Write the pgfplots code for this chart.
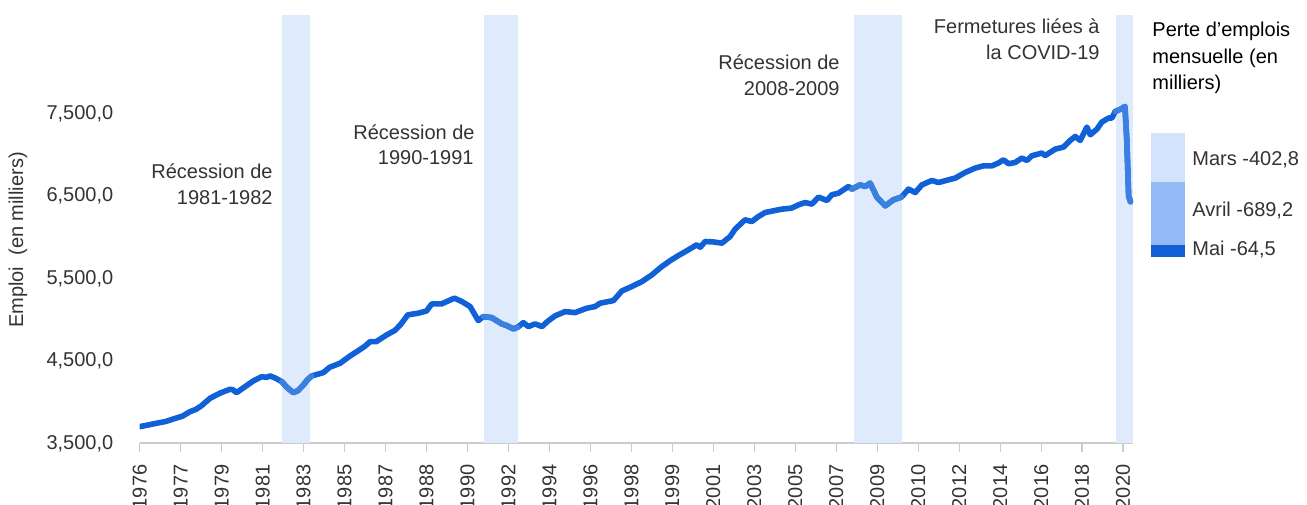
\documentclass[border=0pt]{standalone}
\usepackage{fontspec}
\setmainfont{Liberation Sans}
\usepackage{pgfplots}
\pgfplotsset{compat=1.18}
\usepackage{pgfplotstable}

\definecolor{linedark}{RGB}{16,96,216}
\definecolor{linelight}{RGB}{58,128,224}
\definecolor{shade}{RGB}{223,235,252}
\definecolor{marsc}{RGB}{210,227,252}
\definecolor{avrilc}{RGB}{146,186,244}
\definecolor{maic}{RGB}{17,94,214}
\definecolor{txt}{RGB}{51,51,51}
\definecolor{axisgray}{RGB}{204,204,204}

% month index (0 = Jan 1976), employment (thousands)
\pgfplotstableread{
m v
0 3702
4 3720
9 3743
14 3765
18 3795
23 3830
27 3884
30 3910
33 3953
37.8 4047
43 4108
48.5 4156
50 4150
52 4115
56.6 4188
61 4257
65.5 4309
68 4300
70 4318
73 4290
76.3 4248
79 4180
82.5 4115
85 4140
87.9 4208
90 4270
92.4 4318
95 4335
98.6 4358
102 4423
107.6 4472
113 4561
118 4634
121 4680
123.7 4734
127 4734
132.6 4816
137 4870
140 4940
144 5059
149.6 5080
154 5107
156.8 5192
162 5192
165.7 5229
169 5262
173 5221
177.4 5160
181.8 4990
184.5 5038
189 5026
194.4 4950
197 4930
200.6 4889
203 4910
206 4965
208.7 4917
212.3 4950
216 4917
219 4980
223 5047
228.4 5099
233.8 5087
240 5140
244.5 5160
247.2 5201
254.4 5233
258.9 5350
264.2 5403
269.6 5463
275 5545
280 5640
285 5720
289 5776
294.6 5849
299 5909
301 5881
303.6 5950
308 5945
312.6 5930
317 6010
319.7 6100
325 6213
328.7 6193
332 6250
335.8 6302
341 6326
344.8 6343
350 6355
353.7 6395
357.3 6423
360.9 6404
364.5 6489
369 6448
371.6 6517
375.2 6537
380.6 6618
382.4 6586
386.8 6638
389.5 6618
392.2 6659
395.8 6489
400.3 6383
404.7 6456
409 6489
412.8 6586
416.4 6545
420 6638
425.4 6691
428.9 6666
434.3 6699
437.9 6720
443.2 6788
448.6 6841
453 6869
457.6 6869
461 6902
463.8 6942
466.5 6894
470 6909
473.7 6963
476.4 6934
479 6991
484.4 7024
486.2 6994
491.6 7072
496 7096
499.6 7177
502.3 7225
505 7177
508.6 7339
510.4 7246
514 7315
516.6 7400
520.2 7449
522 7449
523.8 7529
527 7560
529 7590
530 7187
531 6498
532 6433
}\emploi

\begin{document}
\begin{tikzpicture}[x=0.5pt,y=0.5pt,font=\fontsize{10}{12}\selectfont]
\useasboundingbox (0,0) rectangle (1307,504);

\begin{axis}[
  at={(69.85pt,30.35pt)}, anchor=south west,
  scale only axis, width=496.8pt, height=214.15pt,
  xmin=0, xmax=533.5, ymin=3500, ymax=8700,
  axis x line*=bottom, axis y line*=left,
  x axis line style={draw=axisgray, line width=0.9pt, -},
  y axis line style={draw=none},
  tick align=outside,
  major tick length=4.5pt,
  xtick style={draw=axisgray, line width=0.6pt},
  ytick style={draw=none},
  xtick={0,22,...,528},
  xticklabels={1976,1977,1979,1981,1983,1985,1987,1988,1990,1992,1994,1996,1998,1999,2001,2003,2005,2007,2009,2010,2012,2014,2016,2018,2020},
  ytick={3500,4500,5500,6500,7500},
  yticklabels={{3,500,0},{4,500,0},{5,500,0},{6,500,0},{7,500,0}},
  tick label style={font=\fontsize{10}{12}\selectfont, text=txt},
  xticklabel style={rotate=90, anchor=east, inner sep=0pt},
  yticklabel style={anchor=east, inner sep=0pt},
  xticklabel shift=6pt,
  yticklabel shift=8.5pt,
]
\addplot[fill=shade, draw=none] coordinates {(76.5,3500) (76.5,8700) (91.5,8700) (91.5,3500)} -- cycle;
\addplot[fill=shade, draw=none] coordinates {(185,3500) (185,8700) (203,8700) (203,3500)} -- cycle;
\addplot[fill=shade, draw=none] coordinates {(383.5,3500) (383.5,8700) (409.5,8700) (409.5,3500)} -- cycle;
\addplot[fill=shade, draw=none] coordinates {(524,3500) (524,8700) (533.5,8700) (533.5,3500)} -- cycle;

\addplot[linedark, line width=2.8pt, line join=round, line cap=round] table[x=m,y=v] {\emploi};
\addplot[linelight, line width=2.8pt, line join=round, line cap=round, restrict x to domain=76.3:92.4] table[x=m,y=v] {\emploi};
\addplot[linelight, line width=2.8pt, line join=round, line cap=round, restrict x to domain=184.5:203] table[x=m,y=v] {\emploi};
\addplot[linelight, line width=2.8pt, line join=round, line cap=round, restrict x to domain=382.4:409] table[x=m,y=v] {\emploi};
\addplot[linelight, line width=2.8pt, line join=round, line cap=round, restrict x to domain=523.8:533] table[x=m,y=v] {\emploi};
\end{axis}

% legend key (stacked bar)
\begin{axis}[
  at={(575.5pt,123.65pt)}, anchor=south west,
  scale only axis, width=17pt, height=62pt,
  xmin=-0.5, xmax=0.5, ymin=0, ymax=124,
  ybar stacked, bar width=17pt,
  hide axis,
]
\addplot[fill=maic, draw=none] coordinates {(0,11.7)};
\addplot[fill=avrilc, draw=none] coordinates {(0,63.3)};
\addplot[fill=marsc, draw=none] coordinates {(0,49)};
\end{axis}

\node[rotate=90, text=txt] at (18,264) {Emploi\ \ (en milliers)};

\node[anchor=base east, text=txt, inner sep=0pt] at (273,325) {Récession de};
\node[anchor=base east, text=txt, inner sep=0pt] at (273,299) {1981-1982};
\node[anchor=base east, text=txt, inner sep=0pt] at (475,364) {Récession de};
\node[anchor=base east, text=txt, inner sep=0pt] at (474,339) {1990-1991};
\node[anchor=base east, text=txt, inner sep=0pt] at (840,434) {Récession de};
\node[anchor=base east, text=txt, inner sep=0pt] at (840,408) {2008-2009};
\node[anchor=base east, text=txt, inner sep=0pt] at (1100,470) {Fermetures liées à};
\node[anchor=base east, text=txt, inner sep=0pt] at (1100,444) {la COVID-19};

\node[anchor=base west, text=black, inner sep=0pt] at (1152,467) {Perte d'emplois};
\node[anchor=base west, text=black, inner sep=0pt] at (1152,440) {mensuelle (en};
\node[anchor=base west, text=black, inner sep=0pt] at (1152,414) {milliers)};

\node[anchor=base west, text=txt, inner sep=0pt] at (1192,338) {Mars -402,8};
\node[anchor=base west, text=txt, inner sep=0pt] at (1192,287) {Avril -689,2};
\node[anchor=base west, text=txt, inner sep=0pt] at (1192,249) {Mai -64,5};
\end{tikzpicture}
\end{document}
